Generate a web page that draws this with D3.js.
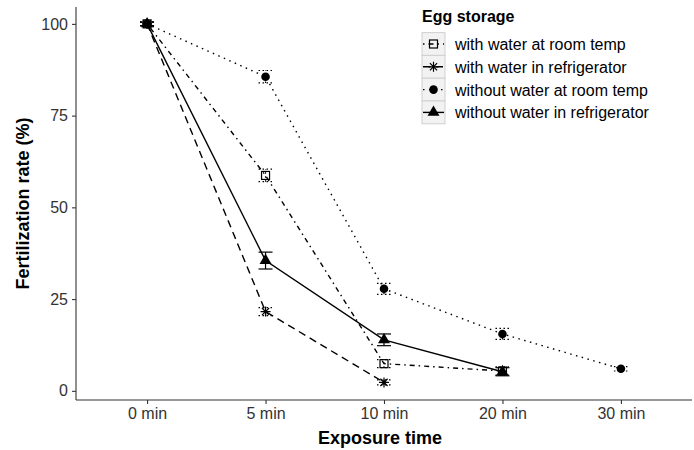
<!DOCTYPE html>
<html>
<head>
<meta charset="utf-8">
<script src="https://cdn.jsdelivr.net/npm/d3@7"></script>
<style>
  body { margin: 0; background: #fff; }
  svg { font-family: "Liberation Sans", Arial, sans-serif; }
</style>
</head>
<body>
<svg width="694" height="450"></svg>
<script>
// exposure times on the x axis
const times = ["0 min", "5 min", "10 min", "20 min", "30 min"];
const yTicks = [0, 25, 50, 75, 100];
const storage = ["with water at room temp", "with water in refrigerator", "without water at room temp", "without water in refrigerator"];

// mean fertilization rate per storage group
const withWaterRoom = [100, 58.7, 7.4, 5.4];
const withWaterFridge = [100, 21.6, 2.3];
const withoutWaterRoom = [100, 85.6, 27.8, 15.5, 6];
const withoutWaterFridge = [100, 35.5, 13.9, 5.2];

// error (± half bar)
const errWithWaterRoom = [0.5, 1.7, 1.1, 1.1];
const errWithWaterFridge = [0.5, 1.1, 0.7];
const errWithoutWaterRoom = [0.5, 1.7, 1.5, 1.5, 0.6];
const errWithoutWaterFridge = [0.5, 2.3, 1.6, 1.1];

const svg = d3.select("svg");
const margin = { top: 7, right: 2, bottom: 50, left: 76 };
const W = 694, H = 450;

const x = d3.scalePoint().domain(times).range([margin.left, W - margin.right]).padding(0.6);
const y = d3.scaleLinear().domain([-2.5, 104.6]).range([H - margin.bottom, margin.top]);

const series = [
  { name: storage[0], values: withWaterRoom, err: errWithWaterRoom, dash: "1.5,4,5,4", shape: "square" },
  { name: storage[1], values: withWaterFridge, err: errWithWaterFridge, dash: "7.5,5", shape: "asterisk" },
  { name: storage[2], values: withoutWaterRoom, err: errWithoutWaterRoom, dash: "1.5,4.5", shape: "circle" },
  { name: storage[3], values: withoutWaterFridge, err: errWithoutWaterFridge, dash: null, shape: "triangle" }
];

const line = d3.line()
  .x((d, i) => x(times[i]))
  .y(d => y(d));

function drawShape(g, shape) {
  if (shape === "square") {
    g.append("rect").attr("x", -4).attr("y", -4).attr("width", 8).attr("height", 8)
      .attr("fill", "none").attr("stroke", "#000").attr("stroke-width", 1.2);
  } else if (shape === "circle") {
    g.append("circle").attr("r", 4.3).attr("fill", "#000");
  } else if (shape === "triangle") {
    g.append("path").attr("d", d3.symbol().type(d3.symbolTriangle).size(62)()).attr("fill", "#000");
  } else {
    const r = 5;
    const d = r * 0.72;
    g.append("path")
      .attr("d", `M${-r},0L${r},0M0,${-r}L0,${r}M${-d},${-d}L${d},${d}M${-d},${d}L${d},${-d}`)
      .attr("stroke", "#000").attr("stroke-width", 1.2).attr("fill", "none");
  }
}

// lines
series.forEach(s => {
  svg.append("path")
    .datum(s.values)
    .attr("d", line)
    .attr("fill", "none")
    .attr("stroke", "#000")
    .attr("stroke-width", 1.4)
    .attr("stroke-dasharray", s.dash);
});

// error bars
series.forEach(s => {
  s.values.forEach((v, i) => {
    const cx = x(times[i]);
    const e = s.err[i];
    const g = svg.append("g")
      .attr("stroke", "#000")
      .attr("stroke-width", 1.2)
      .attr("stroke-dasharray", s.dash ? "1.5,2.5" : null);
    g.append("line").attr("x1", cx).attr("x2", cx).attr("y1", y(v - e)).attr("y2", y(v + e));
    g.append("line").attr("x1", cx - 7).attr("x2", cx + 7).attr("y1", y(v - e)).attr("y2", y(v - e));
    g.append("line").attr("x1", cx - 7).attr("x2", cx + 7).attr("y1", y(v + e)).attr("y2", y(v + e));
  });
});

// points
series.forEach(s => {
  s.values.forEach((v, i) => {
    const g = svg.append("g").attr("transform", `translate(${x(times[i])},${y(v)})`);
    drawShape(g, s.shape);
  });
});

// axes
const xAxis = svg.append("g")
  .attr("transform", `translate(0,${H - margin.bottom})`)
  .call(d3.axisBottom(x).tickSize(4).tickPadding(4));
const yAxis = svg.append("g")
  .attr("transform", `translate(${margin.left},0)`)
  .call(d3.axisLeft(y).tickValues(yTicks).tickSize(4).tickPadding(4));

[xAxis, yAxis].forEach(a => {
  a.select(".domain").attr("stroke", "#333").attr("stroke-width", 1.1);
  a.selectAll(".tick line").attr("stroke", "#333").attr("stroke-width", 1.1);
  a.selectAll(".tick text").attr("fill", "#333").style("font-size", "16px")
    .style("font-family", "Liberation Sans, Arial, sans-serif");
});
xAxis.select(".domain").attr("d", `M${margin.left},0H${W - margin.right}`);
yAxis.select(".domain").attr("d", `M0,${margin.top}V${H - margin.bottom}`);

svg.append("text")
  .attr("x", (margin.left + W - margin.right) / 2 - 4)
  .attr("y", 444)
  .attr("text-anchor", "middle")
  .style("font-size", "18px").style("font-weight", "bold")
  .text("Exposure time");

svg.append("text")
  .attr("transform", `translate(29,${(margin.top + H - margin.bottom) / 2}) rotate(-90)`)
  .attr("text-anchor", "middle")
  .style("font-size", "18px").style("font-weight", "bold")
  .text("Fertilization rate (%)");

// legend
const legend = svg.append("g").attr("transform", "translate(422,0)");
legend.append("text")
  .attr("x", 0).attr("y", 22)
  .style("font-size", "16px").style("font-weight", "bold")
  .text("Egg storage");

series.forEach((s, i) => {
  const cy = 44 + i * 22.8;
  const row = legend.append("g").attr("transform", `translate(0,${cy})`);
  row.append("rect").attr("x", 0).attr("y", -11.4).attr("width", 23).attr("height", 22.8)
    .attr("fill", "#f2f2f2").attr("stroke", "#d0d0d0").attr("stroke-width", 1);
  row.append("line").attr("x1", 1).attr("x2", 22).attr("y1", 0).attr("y2", 0)
    .attr("stroke", "#000").attr("stroke-width", 1.4).attr("stroke-dasharray", s.dash);
  const sg = row.append("g").attr("transform", "translate(11.5,0)");
  drawShape(sg, s.shape);
  row.append("text").attr("x", 33).attr("y", 6)
    .style("font-size", "16px").attr("fill", "#000")
    .text(s.name);
});
</script>
</body>
</html>
